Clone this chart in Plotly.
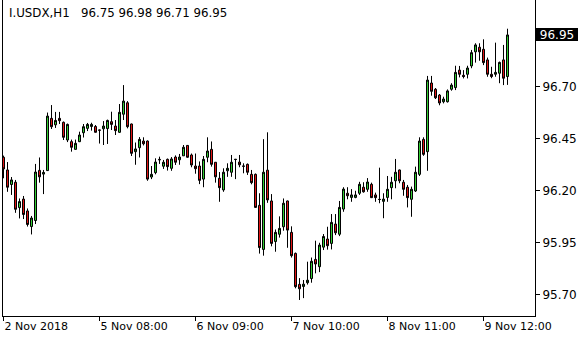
import plotly.graph_objects as go

symbol_header = "I.USDX,H1\u00a0\u00a0\u00a096.75 96.98 96.71 96.95"
last_price = 96.95

bar_index = list(range(127))

opens = [96.362, 96.301, 96.231, 96.242, 96.120, 96.161, 96.104, 96.029, 96.058, 96.299,
         96.281, 96.298, 96.549, 96.518, 96.549, 96.530, 96.445, 96.437, 96.400, 96.437,
         96.480, 96.501, 96.510, 96.510, 96.493, 96.499, 96.500, 96.533, 96.512, 96.482,
         96.569, 96.624, 96.522, 96.389, 96.408, 96.440, 96.440, 96.267, 96.288, 96.352,
         96.319, 96.352, 96.309, 96.363, 96.350, 96.369, 96.419, 96.373, 96.320, 96.320,
         96.257, 96.362, 96.400, 96.338, 96.261, 96.205, 96.297, 96.290, 96.351, 96.339,
         96.320, 96.328, 96.280, 96.280, 96.131, 95.919, 96.300, 96.152, 95.957, 95.992,
         96.028, 96.152, 96.001, 95.900, 95.751, 95.741, 95.759, 95.779, 95.871, 95.836,
         95.930, 95.969, 95.948, 96.041, 95.992, 96.113, 96.189, 96.169, 96.169, 96.189,
         96.218, 96.208, 96.232, 96.181, 96.160, 96.150, 96.169, 96.216, 96.249, 96.301,
         96.242, 96.218, 96.160, 96.200, 96.280, 96.448, 96.389, 96.719, 96.689, 96.661,
         96.629, 96.629, 96.689, 96.697, 96.781, 96.756, 96.761, 96.801, 96.869, 96.891,
         96.881, 96.830, 96.761, 96.761, 96.766, 96.830, 96.75]

highs = [96.370, 96.339, 96.267, 96.253, 96.164, 96.176, 96.116, 96.080, 96.330, 96.361,
         96.301, 96.577, 96.613, 96.580, 96.580, 96.534, 96.524, 96.447, 96.447, 96.485,
         96.522, 96.527, 96.528, 96.517, 96.494, 96.536, 96.543, 96.581, 96.541, 96.618,
         96.709, 96.632, 96.524, 96.433, 96.459, 96.458, 96.443, 96.320, 96.357, 96.365,
         96.349, 96.356, 96.363, 96.371, 96.378, 96.421, 96.421, 96.380, 96.380, 96.342,
         96.368, 96.458, 96.438, 96.339, 96.291, 96.309, 96.333, 96.373, 96.354, 96.373,
         96.333, 96.332, 96.301, 96.284, 96.189, 96.449, 96.482, 96.185, 96.015, 96.078,
         96.164, 96.154, 96.030, 95.904, 95.781, 95.772, 95.860, 95.880, 95.961, 95.951,
         95.993, 96.028, 96.089, 96.089, 96.152, 96.218, 96.218, 96.209, 96.201, 96.244,
         96.242, 96.262, 96.240, 96.192, 96.312, 96.189, 96.272, 96.268, 96.354, 96.303,
         96.253, 96.229, 96.221, 96.317, 96.458, 96.458, 96.753, 96.753, 96.695, 96.666,
         96.653, 96.688, 96.718, 96.802, 96.801, 96.781, 96.802, 96.878, 96.910, 96.910,
         96.929, 96.841, 96.797, 96.913, 96.822, 96.902, 96.98]

lows = [96.261, 96.196, 96.181, 96.095, 96.068, 96.065, 96.029, 95.991, 96.041, 96.240,
        96.185, 96.296, 96.498, 96.503, 96.522, 96.445, 96.435, 96.389, 96.399, 96.435,
        96.457, 96.488, 96.490, 96.481, 96.428, 96.421, 96.426, 96.493, 96.469, 96.479,
        96.541, 96.501, 96.368, 96.326, 96.361, 96.419, 96.249, 96.257, 96.280, 96.330,
        96.306, 96.298, 96.297, 96.325, 96.326, 96.368, 96.360, 96.314, 96.283, 96.233,
        96.218, 96.338, 96.317, 96.240, 96.148, 96.196, 96.268, 96.268, 96.257, 96.314,
        96.285, 96.277, 96.232, 96.119, 95.899, 95.889, 96.143, 95.934, 95.908, 95.976,
        96.009, 95.927, 95.880, 95.732, 95.676, 95.685, 95.750, 95.759, 95.804, 95.810,
        95.916, 95.918, 95.919, 95.988, 95.983, 96.100, 96.160, 96.148, 96.165, 96.181,
        96.192, 96.196, 96.166, 96.148, 96.141, 96.069, 96.148, 96.160, 96.213, 96.237,
        96.177, 96.121, 96.076, 96.195, 96.272, 96.369, 96.297, 96.658, 96.642, 96.612,
        96.621, 96.625, 96.682, 96.685, 96.746, 96.741, 96.741, 96.790, 96.817, 96.826,
        96.805, 96.749, 96.742, 96.749, 96.718, 96.709, 96.71]

closes = [96.306, 96.218, 96.253, 96.112, 96.149, 96.087, 96.039, 96.070, 96.291, 96.268,
          96.289, 96.560, 96.509, 96.539, 96.538, 96.458, 96.520, 96.410, 96.429, 96.469,
          96.509, 96.520, 96.520, 96.482, 96.492, 96.512, 96.539, 96.520, 96.490, 96.578,
          96.632, 96.509, 96.381, 96.402, 96.448, 96.427, 96.257, 96.280, 96.339, 96.350,
          96.338, 96.317, 96.354, 96.338, 96.363, 96.410, 96.362, 96.325, 96.307, 96.251,
          96.352, 96.392, 96.328, 96.268, 96.216, 96.290, 96.309, 96.338, 96.352, 96.326,
          96.319, 96.290, 96.240, 96.121, 95.928, 96.290, 96.157, 95.948, 96.001, 96.020,
          96.141, 96.012, 95.889, 95.740, 95.730, 95.752, 95.771, 95.862, 95.849, 95.940,
          95.981, 95.937, 96.049, 95.999, 96.121, 96.209, 96.177, 96.181, 96.181, 96.232,
          96.196, 96.243, 96.168, 96.168, 96.159, 96.161, 96.208, 96.242, 96.290, 96.249,
          96.208, 96.168, 96.208, 96.290, 96.440, 96.376, 96.733, 96.679, 96.648, 96.623,
          96.642, 96.681, 96.709, 96.770, 96.761, 96.750, 96.791, 96.865, 96.902, 96.869,
          96.817, 96.761, 96.750, 96.770, 96.818, 96.742, 96.95]

time_tick_pos = [0, 24, 48, 72, 96, 120]
time_tick_labels = ["2 Nov 2018", "5 Nov 08:00", "6 Nov 09:00", "7 Nov 10:00",
                    "8 Nov 11:00", "9 Nov 12:00"]
price_ticks = [95.70, 95.95, 96.20, 96.45, 96.70]
price_tick_labels = ["95.70", "95.95", "96.20", "96.45", "96.70"]

FONT = "DejaVu Sans"

fig = go.Figure(go.Candlestick(
    x=bar_index, open=opens, high=highs, low=lows, close=closes,
    increasing=dict(fillcolor="#32CD32", line=dict(color="black", width=1)),
    decreasing=dict(fillcolor="#E01414", line=dict(color="black", width=1)),
    whiskerwidth=0, hoverinfo="skip",
))

fig.update_layout(
    width=580, height=340,
    margin=dict(l=3, r=45, t=0, b=24),
    paper_bgcolor="white", plot_bgcolor="white",
    showlegend=False, boxgap=0.5, boxgroupgap=0,
    font=dict(family=FONT, size=11, color="black"),
)

fig.update_xaxes(
    range=[-0.125, 132.875], rangeslider_visible=False,
    showgrid=False, zeroline=False,
    showline=True, linecolor="black", linewidth=1, mirror=True,
    tickmode="array", tickvals=time_tick_pos, ticktext=time_tick_labels,
    ticks="outside", ticklen=4, tickcolor="black", tickwidth=1,
    ticklabelposition="outside right",
    tickfont=dict(family=FONT, size=11, color="black"),
)

fig.update_yaxes(
    side="right", range=[95.599, 97.118],
    showgrid=False, zeroline=False,
    showline=True, linecolor="black", linewidth=1, mirror=True,
    tickmode="array", tickvals=price_ticks, ticktext=price_tick_labels,
    ticks="outside", ticklen=4, tickcolor="black", tickwidth=1,
    tickfont=dict(family=FONT, size=12, color="black"),
)

fig.add_annotation(
    xref="paper", yref="paper", x=0, y=1, xanchor="left", yanchor="middle",
    xshift=4, yshift=-13, text=symbol_header, showarrow=False,
    font=dict(family=FONT, size=11.8, color="black"),
)

fig.add_annotation(
    xref="paper", yref="y", x=1, y=last_price, xanchor="left", yanchor="middle",
    xshift=1, text=f"{last_price:.2f}", showarrow=False,
    bgcolor="black", borderwidth=0, borderpad=2, width=38, height=9,
    font=dict(family=FONT, size=12, color="white"),
)

fig.write_html("out.html", config=dict(displayModeBar=False, staticPlot=True))
